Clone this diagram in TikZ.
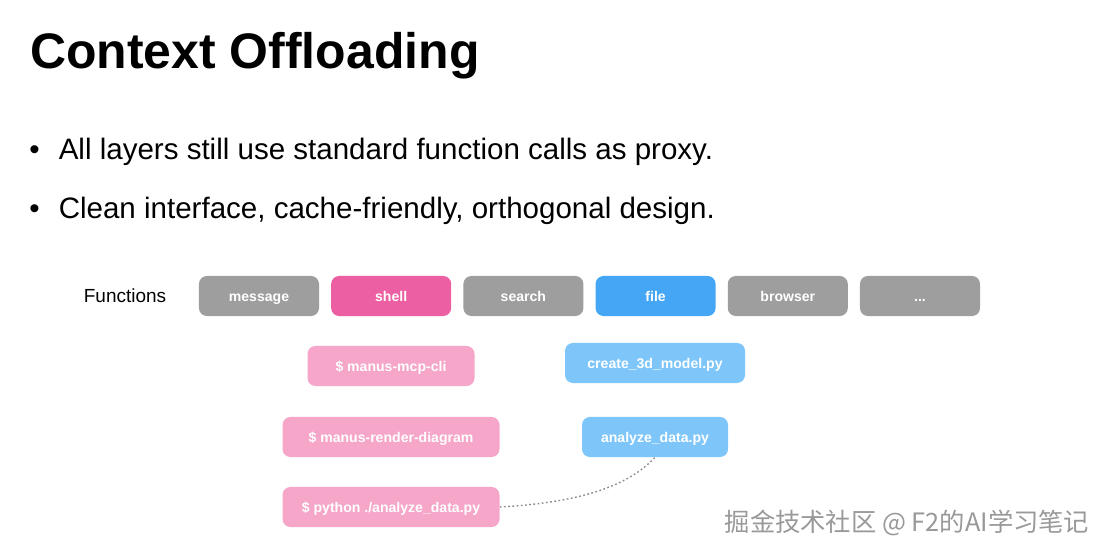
\documentclass[tikz,border=0pt]{standalone}
\usepackage{fontspec}
\setmainfont{Liberation Sans}
\newfontfamily\cjk{Noto Sans CJK SC}
\usepackage{xcolor}
\usepackage{tikz}
\usetikzlibrary{positioning}

\definecolor{fngray}{HTML}{9E9E9E}
\definecolor{shellpink}{HTML}{EC5FA3}
\definecolor{fileblue}{HTML}{44A6F5}
\definecolor{cmdpink}{HTML}{F5A6C9}
\definecolor{pyblue}{HTML}{7EC6FA}

\begin{document}
\begin{tikzpicture}[
  x=0.025cm, y=-0.025cm,
  node distance=0.29cm,
  fnbox/.style={rounded corners=0.2cm,minimum width=3cm,minimum height=1cm,text=white,font=\fontsize{10}{12}\selectfont\bfseries,inner sep=0pt,text height=9pt,text depth=1.2pt},
  cmdbox/.style={fnbox,fill=cmdpink},
  pybox/.style={fnbox,fill=pyblue},
  link/.style={draw=gray!90,line width=1pt,dash pattern=on 1.2pt off 1.8pt}
]
\useasboundingbox (0,0) rectangle (1106,556);
\fill[white] (0,0) rectangle (1106,556);

\node[anchor=base west,inner sep=0pt,font=\fontsize{35.5}{40}\selectfont\bfseries] (title) at (30,69) {Context Offloading};
\node[anchor=base west,inner sep=0pt,font=\fontsize{21}{25}\selectfont] (point1) at (29,160) {\makebox[21pt][l]{•}All layers still use standard function calls as proxy.};
\node[anchor=base west,inner sep=0pt,font=\fontsize{21}{25}\selectfont] (point2) at (29,219) {\makebox[21pt][l]{•}Clean interface, cache-friendly, orthogonal design.};

% function row
\node[inner sep=0pt,font=\fontsize{13.5}{16}\selectfont] (fnlabel) at (125,296) {Functions};
\node[fnbox,fill=fngray] (message) at (259,296) {message};
\node[fnbox,fill=shellpink,right=of message] (shell) {shell};
\node[fnbox,fill=fngray,right=of shell] (search) {search};
\node[fnbox,fill=fileblue,right=of search] (file) {file};
\node[fnbox,fill=fngray,right=of file] (browser) {browser};
\node[fnbox,fill=fngray,right=of browser] (more) {...};

% shell commands
\node[cmdbox,minimum width=167*0.025cm] (mcpcli) at (391,366) {\$ manus-mcp-cli};
\node[cmdbox,minimum width=217*0.025cm] (render) at (391,437) {\$ manus-render-diagram};
\node[cmdbox,minimum width=217*0.025cm] (runpy) at (391,507) {\$ python ./analyze\_data.py};

% files
\node[pybox,minimum width=180*0.025cm] (model3d) at (655,363) {create\_3d\_model.py};
\node[pybox,minimum width=146*0.025cm] (analyze) at (655,437) {analyze\_data.py};

\draw[link] (runpy.east) .. controls (590,502) and (632,482) .. (analyze.south);

\node[inner sep=0pt,text=gray!80,font=\cjk\fontsize{18}{21}\selectfont] (mark) at (907,523) {掘金技术社区 @ F2的AI学习笔记};
\end{tikzpicture}
\end{document}
